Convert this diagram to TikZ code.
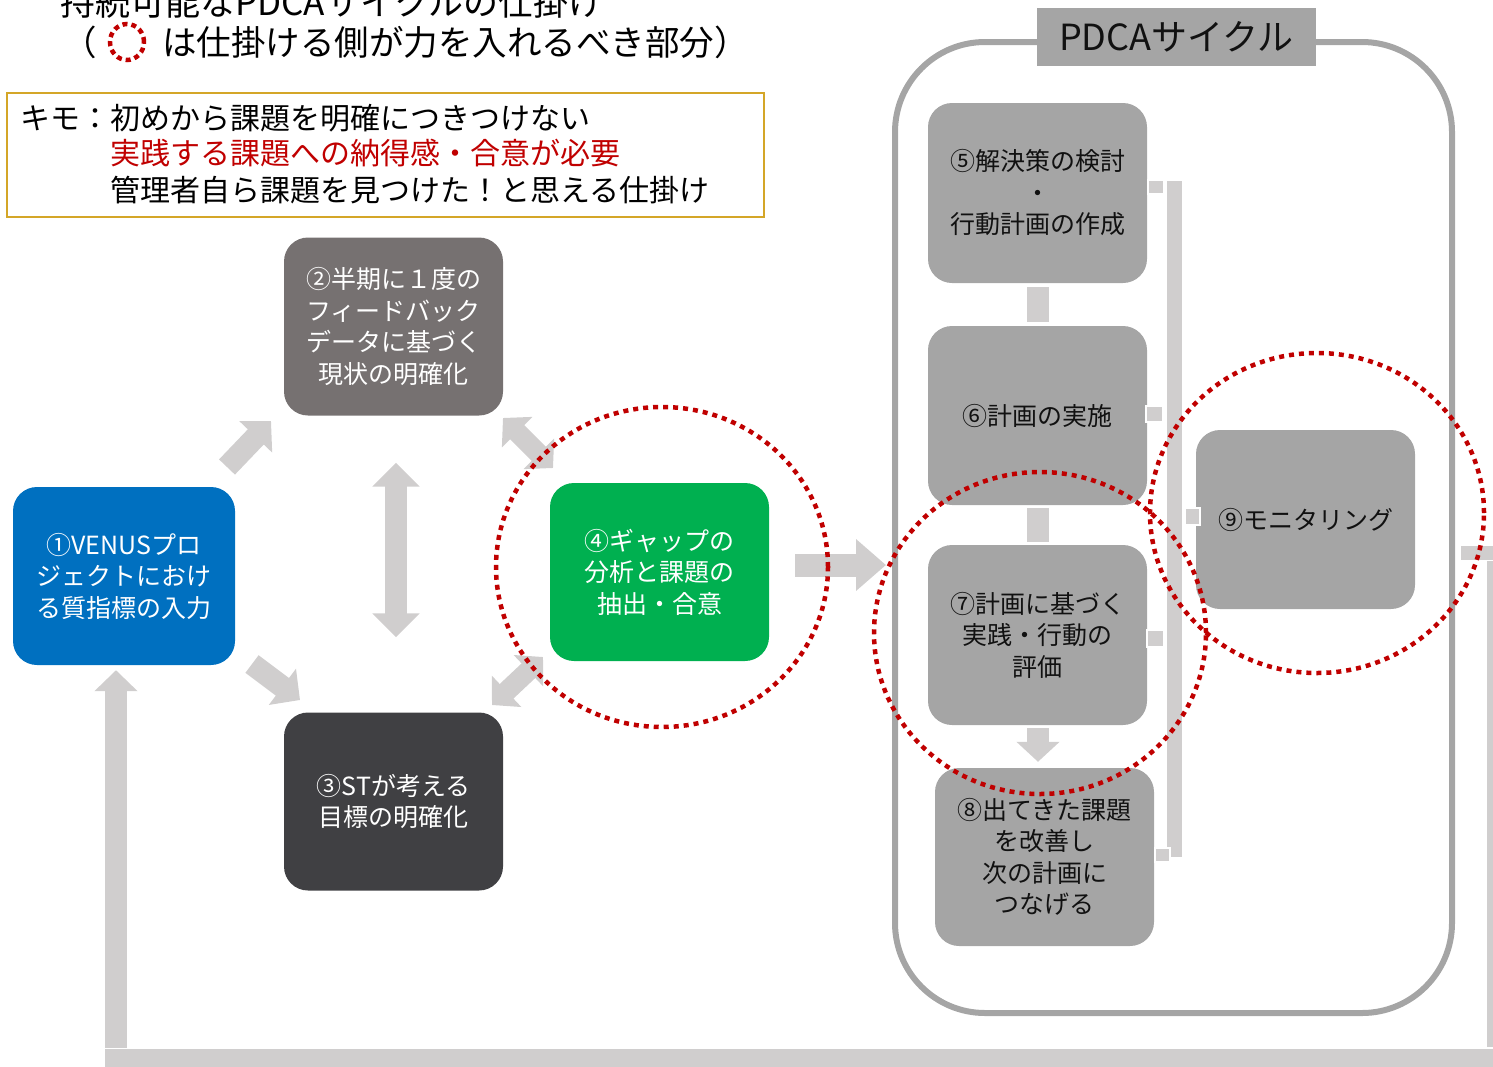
\documentclass[tikz,border=0pt]{standalone}
\usepackage{fontspec}
\setmainfont{Noto Sans CJK JP}
\usetikzlibrary{arrows.meta,calc}
\definecolor{cblue}{HTML}{0070C0}
\definecolor{cgreen}{HTML}{00B050}
\definecolor{cdgrey}{HTML}{767171}
\definecolor{cblack}{HTML}{404043}
\definecolor{cgrey}{HTML}{A5A5A5}
\definecolor{agrey}{HTML}{D0CECE}
\definecolor{cred}{HTML}{C00000}
\definecolor{cgold}{HTML}{D4A628}
\definecolor{ctext}{HTML}{111111}
\begin{document}
\begin{tikzpicture}[x=1pt,y=-1pt,
  box/.style={rounded corners=24pt, minimum width=219pt, minimum height=178pt, inner sep=0pt,
    align=center, font=\fontsize{25}{31.5}\selectfont},
  sarrow/.style={draw=agrey, line width=22pt, -{Triangle[width=44pt,length=22pt]}},
  darrow/.style={draw=agrey, line width=22pt, {Triangle[width=44pt,length=22pt]}-{Triangle[width=44pt,length=22pt]}},
  sq/.style={fill=agrey, draw=white, line width=1.2pt},
  redcirc/.style={draw=cred, line width=4.5pt, dash pattern=on 5pt off 5pt}
]
\useasboundingbox (0,0) rectangle (1493,1066);

% titles
\node[anchor=base west, inner sep=0pt, font=\fontsize{35}{35}\selectfont] (t1) at (60,15) {持続可能なPDCAサイクルの仕掛け};
\node[anchor=base west, inner sep=0pt, font=\fontsize{34.5}{34.5}\selectfont] (t2a) at (62,55) {（};
\node[anchor=base west, inner sep=0pt, font=\fontsize{34.5}{34.5}\selectfont] (t2b) at (162,55) {は仕掛ける側が力を入れるべき部分）};
\draw[draw=cred, line width=4.5pt, dash pattern=on 5pt off 4pt] (127,42) ellipse [x radius=17pt, y radius=18pt];

% key box
\node[draw=cgold, line width=1.5pt, minimum width=757pt, minimum height=124pt, inner sep=0pt] (key) at (385.5,155) {};
\node[anchor=base west, inner sep=0pt, font=\fontsize{30}{30}\selectfont] (k1) at (20,129) {キモ：初めから課題を明確につきつけない};
\node[anchor=base west, inner sep=0pt, text=cred, font=\fontsize{30}{30}\selectfont] (k2) at (110,164) {実践する課題への納得感・合意が必要};
\node[anchor=base west, inner sep=0pt, font=\fontsize{30}{30}\selectfont] (k3) at (110,201) {管理者自ら課題を見つけた！と思える仕掛け};

% PDCA container
\draw[draw=cgrey, line width=6pt, rounded corners=90pt] (895,42) rectangle (1452,1013);
\node[fill=cgrey, minimum width=279pt, minimum height=58pt, inner sep=0pt, font=\fontsize{36}{36}\selectfont, text=ctext] (lab) at (1176.5,37) {PDCAサイクル};

% left nodes
\node[box, fill=cblue, text=white, minimum width=222pt] (n1) at (124,576) {①VENUSプロ\\ジェクトにおけ\\る質指標の入力};
\node[box, fill=cdgrey, text=white] (n2) at (393.5,326.5) {②半期に１度の\\フィードバック\\データに基づく\\現状の明確化};
\node[box, fill=cblack, text=white] (n3) at (393.5,801.5) {③STが考える\\目標の明確化};
\node[box, fill=cgreen, text=white] (n4) at (659.5,572) {④ギャップの\\分析と課題の\\抽出・合意};

% right nodes
\node[box, fill=cgrey, text=ctext, minimum height=180pt] (n5) at (1037.5,193) {⑤解決策の検討\\・\\行動計画の作成};
\node[box, fill=cgrey, text=ctext, minimum height=179pt] (n6) at (1037.5,415.5) {⑥計画の実施};
\node[box, fill=cgrey, text=ctext, minimum height=180pt] (n7) at (1037.5,635) {⑦計画に基づく\\実践・行動の\\評価};
\node[box, fill=cgrey, text=ctext] (n8) at (1044.5,857) {⑧出てきた課題\\を改善し\\次の計画に\\つなげる};
\node[box, fill=cgrey, text=ctext, minimum height=179pt] (n9) at (1305.5,519.5) {⑨モニタリング};

% block arrows (left cycle)
\coordinate (a12s) at (227,467); \coordinate (a12e) at (271,421);
\draw[sarrow] (a12s) -- (a12e);
\coordinate (a13s) at (252,664); \coordinate (a13e) at (300,700);
\draw[sarrow] (a13s) -- (a13e);
\draw[darrow, {Triangle[width=46pt,length=24pt]}-{Triangle[width=46pt,length=24pt]}] ($(n2.south)+(2.5,47)$) -- ($(n3.north)+(2.5,-75)$);
\coordinate (a24s) at (503,418); \coordinate (a24e) at (553,468);
\draw[darrow, line width=20pt, {Triangle[width=42pt,length=20pt]}-{Triangle[width=42pt,length=20pt]}] (a24s) -- (a24e);
\coordinate (a34s) at (492,705); \coordinate (a34e) at (543,657);
\draw[darrow, line width=20pt, {Triangle[width=42pt,length=20pt]}-{Triangle[width=42pt,length=20pt]}] (a34s) -- (a34e);
\coordinate (a4ps) at (795,565); \coordinate (a4pe) at (886,565);
\draw[sarrow, line width=23pt, -{Triangle[width=50pt,length=30pt]}] (a4ps) -- (a4pe);

% PDCA column links
\draw[draw=agrey, line width=22pt] ($(n5.south)+(0.5,4)$) -- ($(n6.north)+(0.5,-4)$);
\draw[draw=agrey, line width=22pt] ($(n6.south)+(0.5,3)$) -- ($(n7.north)+(0.5,-3)$);
\draw[sarrow, -{Triangle[width=42pt,length=20pt]}] ($(n7.south)+(0.5,3)$) -- ($(n8.north)+(-6.5,-6)$);

% bracket to monitoring
\draw[sq] (1166,180) rectangle (1183,858);
\draw[sq] (1148,180) rectangle (1164,194);
\draw[sq] (1146,406) rectangle (1163,422);
\draw[sq] (1147,630) rectangle (1164,647);
\draw[sq] (1155,848) rectangle (1170,862);
\draw[sq] (1185,508) rectangle (1200,525);

% feedback loop
\draw[sq] (1460,545) rectangle (1495,561);
\fill[agrey] (1487,561) rectangle (1493,1048);
\draw[sq] (104,1048) rectangle (1495,1068);
\coordinate (fbs) at (116,1048);
\draw[sarrow, line width=22pt, -{Triangle[width=42pt,length=21pt]}] (fbs) -- ($(n1.south)+(-8,5)$);

% red dotted circles
\draw[redcirc] (662,567) ellipse [x radius=166pt, y radius=160pt];
\draw[redcirc] (1040,633) ellipse [x radius=166pt, y radius=161pt];
\draw[redcirc] (1317,513) ellipse [x radius=167pt, y radius=160pt];
\end{tikzpicture}
\end{document}
